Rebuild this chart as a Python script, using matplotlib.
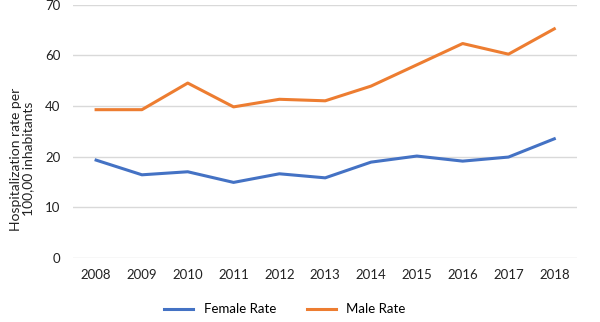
import numpy as np
import matplotlib
matplotlib.use("Agg")
import matplotlib.pyplot as plt

# data
years = [2008, 2009, 2010, 2011, 2012, 2013, 2014, 2015, 2016, 2017, 2018]
female_rate = [19.3, 16.4, 17.0, 14.9, 16.6, 15.8, 18.9, 20.2, 19.1, 19.9, 27.0]
male_rate = [38.5, 38.5, 49.0, 39.6, 42.6, 42.0, 47.8, 56.2, 62.3, 60.2, 65.2]
y_ticks = [0, 10, 20, 40, 60, 70]

plt.rcParams['font.family'] = ['Lato', 'DejaVu Sans']

# the y axis labels are evenly spaced although the values are not,
# so map the labelled values onto equal steps
steps = np.arange(len(y_ticks))
def fwd(v):
    return np.interp(v, y_ticks, steps)
def inv(p):
    return np.interp(p, steps, y_ticks)

fig = plt.figure(figsize=(6, 3.22), dpi=100)
ax = fig.add_axes([0.122, 0.199, 0.84, 0.787])
ax.set_yscale('function', functions=(fwd, inv))

ax.plot(years, female_rate, color='#4472C4', lw=2.2, label='Female Rate')
ax.plot(years, male_rate, color='#ED7D31', lw=2.2, label='Male Rate')

ax.set_xlim(2007.5, 2018.5)
ax.set_ylim(0, 70)
ax.set_xticks(years)
ax.set_yticks(y_ticks)
ax.set_yticklabels([str(t) for t in y_ticks])
ax.minorticks_off()
ax.grid(axis='y', color='#d9d9d9', lw=1)
ax.set_axisbelow(True)
for s in ax.spines.values():
    s.set_visible(False)
ax.tick_params(axis='both', length=0, labelsize=9.5, colors='#222222')
ax.tick_params(axis='y', pad=9)
ax.tick_params(axis='x', pad=8)

ax.set_ylabel('Hospitalization rate per\n100,00 inhabitants', fontsize=10,
              color='#222222', linespacing=1.0)
ax.yaxis.set_label_coords(-0.077, 0.39)

fig.legend(loc='center', bbox_to_anchor=(0.475, 0.04), ncol=2, frameon=False,
           fontsize=9.5, handlelength=2.2, columnspacing=2.3)

fig.savefig('out.png', dpi=100)
